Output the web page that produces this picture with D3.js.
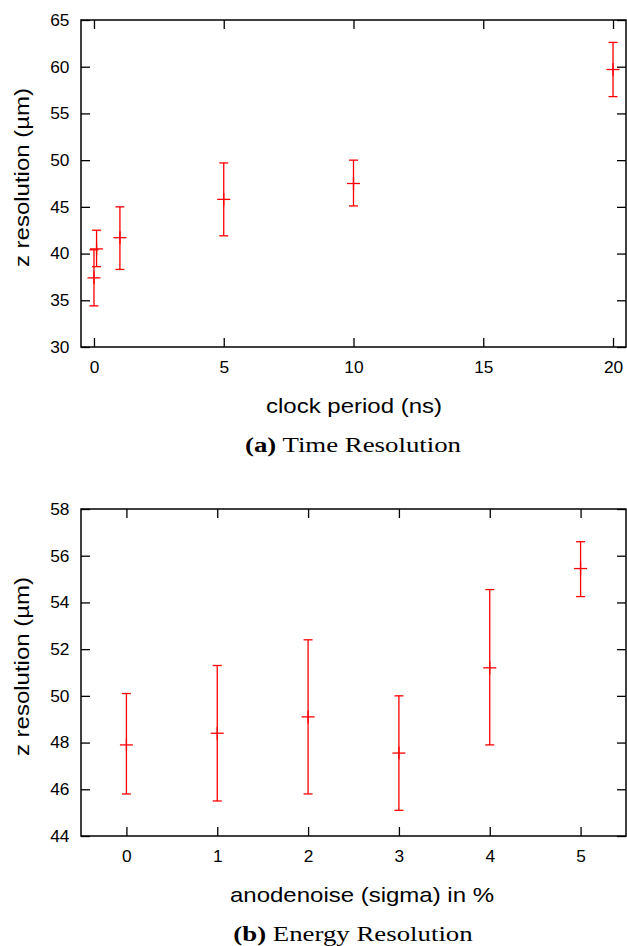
<!DOCTYPE html>
<html>
<head>
<meta charset="utf-8">
<script src="https://cdn.jsdelivr.net/npm/d3@7"></script>
<style>
  body { margin: 0; background: #fff; }
  svg { display: block; }
  .tick text { font-family: "Liberation Sans", Arial, sans-serif; font-size: 16.5px; fill: #000; }
  .axis-title { font-family: "Liberation Sans", Arial, sans-serif; font-size: 20px; fill: #000; }
  .caption { font-family: "Liberation Serif", "Times New Roman", serif; font-size: 22px; fill: #000; }
</style>
</head>
<body>
<svg id="chart" width="627" height="946"></svg>
<script>
// (a) time resolution vs clock period
const clockPeriod = [0, 0.1, 1, 5, 10, 20];
const timeRes = [37.4, 40.5, 41.7, 45.8, 47.5, 59.7];
const timeLow = [34.4, 38.6, 38.3, 41.9, 45.1, 56.8];
const timeHigh = [40.4, 42.5, 45.0, 49.7, 50.0, 62.6];
const timeXTicks = [0, 5, 10, 15, 20];
const timeYTicks = [30, 35, 40, 45, 50, 55, 60, 65];

// (b) energy resolution vs anode noise
const anodeNoise = [0, 1, 2, 3, 4, 5];
const energyRes = [47.9, 48.4, 49.1, 47.55, 51.2, 55.45];
const energyLow = [45.8, 45.5, 45.8, 45.1, 47.9, 54.25];
const energyHigh = [50.1, 51.3, 52.4, 50.0, 54.55, 56.6];
const energyXTicks = [0, 1, 2, 3, 4, 5];
const energyYTicks = [44, 46, 48, 50, 52, 54, 56, 58];

const svg = d3.select('#chart');
const tickStretch = 1.05;   // tick labels slightly wider than Arial
const titleStretch = 1.2;   // axis titles and captions are noticeably wider

function drawPanel(opts) {
  const { top, xs, ys, lows, highs, xDomain, yDomain, xTicks, yTicks, xTitle, xTitleX, capLabel, capText } = opts;
  const left = 81, right = 626, height = 327;
  const bottom = top + height;

  const x = d3.scaleLinear().domain(xDomain).range([left, right]);
  const y = d3.scaleLinear().domain(yDomain).range([bottom, top]);

  const g = svg.append('g');

  // frame
  g.append('rect')
    .attr('x', left).attr('y', top)
    .attr('width', right - left).attr('height', height)
    .style('fill', 'none').style('stroke', '#000').style('stroke-width', 1.5);

  // axes with inward ticks on all four sides
  const axB = g.append('g').attr('transform', `translate(0,${bottom})`)
    .call(d3.axisBottom(x).tickValues(xTicks).tickFormat(d3.format('d')).tickSizeInner(-9).tickSizeOuter(0).tickPadding(14.5));
  const axL = g.append('g').attr('transform', `translate(${left},0)`)
    .call(d3.axisLeft(y).tickValues(yTicks).tickFormat(d3.format('d')).tickSizeInner(-9).tickSizeOuter(0));
  g.append('g').attr('transform', `translate(0,${top})`)
    .call(d3.axisTop(x).tickValues(xTicks).tickFormat('').tickSizeInner(-9).tickSizeOuter(0));
  g.append('g').attr('transform', `translate(${right},0)`)
    .call(d3.axisRight(y).tickValues(yTicks).tickFormat('').tickSizeInner(-9).tickSizeOuter(0));

  g.selectAll('.domain').remove();
  g.selectAll('.tick line').style('stroke', '#000').style('stroke-width', 1.3);

  axB.selectAll('.tick text').attr('transform', `scale(${tickStretch},1)`);
  axL.selectAll('.tick text').attr('x', -11.5 / tickStretch).attr('transform', `scale(${tickStretch},1)`);

  // error bars
  const pts = xs.map((v, i) => ({ x: v, y: ys[i], lo: lows[i], hi: highs[i] }));
  const red = '#ff0000';
  const eb = g.append('g').style('stroke', red).style('stroke-width', 1.3).style('fill', 'none');
  pts.forEach(d => {
    const cx = x(d.x);
    eb.append('line').attr('x1', cx).attr('x2', cx).attr('y1', y(d.lo)).attr('y2', y(d.hi));
    eb.append('line').attr('x1', cx - 4.5).attr('x2', cx + 4.5).attr('y1', y(d.lo)).attr('y2', y(d.lo));
    eb.append('line').attr('x1', cx - 4.5).attr('x2', cx + 4.5).attr('y1', y(d.hi)).attr('y2', y(d.hi));
    // point marker (+)
    eb.append('line').attr('x1', cx - 6.5).attr('x2', cx + 6.5).attr('y1', y(d.y)).attr('y2', y(d.y));
    eb.append('line').attr('x1', cx).attr('x2', cx).attr('y1', y(d.y) - 6.5).attr('y2', y(d.y) + 6.5);
  });

  // axis titles
  g.append('text').attr('class', 'axis-title')
    .attr('text-anchor', 'middle')
    .attr('transform', `translate(${xTitleX},${bottom + 66}) scale(${titleStretch},1)`)
    .text(xTitle);
  g.append('text').attr('class', 'axis-title')
    .attr('text-anchor', 'middle')
    .attr('transform', `translate(29,${(top + bottom) / 2 - 6}) rotate(-90) scale(${titleStretch},1)`)
    .text('z resolution (µm)');

  // caption
  const cap = g.append('text').attr('class', 'caption')
    .attr('text-anchor', 'middle')
    .attr('transform', `translate(353,${bottom + 104.5}) scale(1.22,1)`);
  cap.append('tspan').style('font-weight', 'bold').text(capLabel);
  cap.append('tspan').text(' ' + capText);
}

drawPanel({
  top: 20, xs: clockPeriod, ys: timeRes, lows: timeLow, highs: timeHigh,
  xDomain: [-0.5, 20.5], yDomain: [30, 65], xTicks: timeXTicks, yTicks: timeYTicks,
  xTitle: 'clock period (ns)', xTitleX: 354, capLabel: '(a)', capText: 'Time Resolution'
});

drawPanel({
  top: 509, xs: anodeNoise, ys: energyRes, lows: energyLow, highs: energyHigh,
  xDomain: [-0.5, 5.5], yDomain: [44, 58], xTicks: energyXTicks, yTicks: energyYTicks,
  xTitle: 'anodenoise (sigma) in %', xTitleX: 362, capLabel: '(b)', capText: 'Energy Resolution'
});
</script>
</body>
</html>
